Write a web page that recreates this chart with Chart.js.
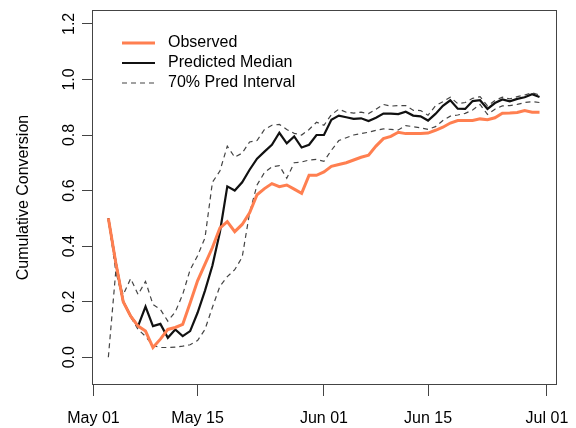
<!DOCTYPE html>
<html lang="en">
<head>
<meta charset="UTF-8">
<title>Cumulative Conversion</title>
<script src="https://cdn.jsdelivr.net/npm/chart.js"></script>
<style>
  body { margin: 0; background: #fff; }
  canvas { display: block; }
</style>
</head>
<body>
<canvas id="convChart" width="576" height="428"></canvas>
<script>
// x = days since May 01 (May 03 .. Jun 30)
const days = [2, 3, 4, 5, 6, 7, 8, 9, 10, 11, 12, 13, 14, 15, 16, 17, 18, 19, 20, 21,
  22, 23, 24, 25, 26, 27, 28, 29, 30, 31, 32, 33, 34, 35, 36, 37, 38, 39, 40, 41,
  42, 43, 44, 45, 46, 47, 48, 49, 50, 51, 52, 53, 54, 55, 56, 57, 58, 59, 60];

const observed = [0.50, 0.34, 0.20, 0.148, 0.112, 0.094, 0.035, 0.065, 0.10, 0.107,
  0.118, 0.195, 0.275, 0.335, 0.395, 0.465, 0.488, 0.452, 0.478, 0.52,
  0.585, 0.607, 0.625, 0.614, 0.62, 0.605, 0.59, 0.655, 0.655, 0.667,
  0.687, 0.694, 0.70, 0.71, 0.72, 0.727, 0.76, 0.787, 0.795, 0.81,
  0.805, 0.805, 0.805, 0.807, 0.817, 0.828, 0.843, 0.852, 0.852, 0.852,
  0.858, 0.855, 0.862, 0.878, 0.879, 0.881, 0.888, 0.882, 0.882];

const median = [0.50, 0.34, 0.20, 0.148, 0.112, 0.182, 0.112, 0.12, 0.07, 0.10,
  0.076, 0.094, 0.16, 0.24, 0.33, 0.45, 0.615, 0.60, 0.63, 0.675,
  0.715, 0.74, 0.765, 0.808, 0.77, 0.795, 0.755, 0.765, 0.80, 0.80,
  0.855, 0.87, 0.864, 0.858, 0.86, 0.85, 0.862, 0.877, 0.877, 0.875,
  0.884, 0.87, 0.867, 0.852, 0.876, 0.905, 0.925, 0.895, 0.894, 0.922,
  0.925, 0.894, 0.915, 0.928, 0.921, 0.93, 0.936, 0.947, 0.937];

const upper = [0.50, 0.31, 0.225, 0.283, 0.226, 0.273, 0.19, 0.172, 0.13, 0.163,
  0.226, 0.315, 0.365, 0.43, 0.63, 0.67, 0.76, 0.72, 0.735, 0.775,
  0.78, 0.82, 0.835, 0.838, 0.82, 0.806, 0.80, 0.82, 0.846, 0.835,
  0.873, 0.893, 0.882, 0.879, 0.882, 0.877, 0.893, 0.91, 0.904, 0.906,
  0.906, 0.889, 0.888, 0.871, 0.905, 0.92, 0.936, 0.913, 0.917, 0.932,
  0.938, 0.905, 0.924, 0.936, 0.93, 0.938, 0.944, 0.952, 0.944];

const lower = [0.0, 0.31, 0.20, 0.145, 0.10, 0.075, 0.042, 0.035, 0.035, 0.036,
  0.04, 0.045, 0.06, 0.10, 0.18, 0.255, 0.29, 0.315, 0.36, 0.52,
  0.62, 0.665, 0.685, 0.69, 0.644, 0.70, 0.703, 0.71, 0.712, 0.705,
  0.745, 0.78, 0.79, 0.80, 0.805, 0.81, 0.817, 0.822, 0.82, 0.818,
  0.834, 0.83, 0.826, 0.82, 0.83, 0.852, 0.868, 0.872, 0.878, 0.89,
  0.91, 0.874, 0.893, 0.905, 0.906, 0.91, 0.917, 0.92, 0.917];

const xTickDays = [0, 14, 31, 45, 61];
const xTickLabels = ['May 01', 'May 15', 'Jun 01', 'Jun 15', 'Jul 01'];
const yTicks = [0, 0.2, 0.4, 0.6, 0.8, 1.0, 1.2];

const FONT = "'Liberation Sans', Arial, sans-serif";
const AXIS = '#444';

function pts(vals) {
  return days.map((d, i) => ({ x: d, y: vals[i] }));
}

// box, rotated y tick labels (R style) and the legend
const extras = {
  id: 'extras',
  afterDraw(chart) {
    const { ctx, chartArea: a, scales } = chart;
    ctx.save();
    ctx.strokeStyle = AXIS;
    ctx.lineWidth = 1;
    ctx.strokeRect(a.left + 0.5, a.top + 0.5, a.width - 1, a.height - 1);

    ctx.fillStyle = '#000';
    ctx.font = '16px ' + FONT;
    ctx.textAlign = 'center';
    ctx.textBaseline = 'middle';
    yTicks.forEach(v => {
      const py = scales.y.getPixelForValue(v);
      ctx.save();
      ctx.translate(a.left - 22, py);
      ctx.rotate(-Math.PI / 2);
      ctx.fillText(v.toFixed(1), 0, 0);
      ctx.restore();
    });

    // legend: interval shares one entry
    const entries = [0, 1, 2];
    ctx.textAlign = 'left';
    entries.forEach((idx, i) => {
      const ds = chart.data.datasets[idx];
      const y = a.top + 33 + i * 20;
      ctx.beginPath();
      ctx.strokeStyle = ds.borderColor;
      ctx.lineWidth = ds.borderWidth;
      ctx.setLineDash(ds.borderDash || []);
      ctx.moveTo(a.left + 30, y);
      ctx.lineTo(a.left + 63, y);
      ctx.stroke();
      ctx.setLineDash([]);
      ctx.fillStyle = '#000';
      ctx.fillText(ds.label, a.left + 76, y);
    });
    ctx.restore();
  }
};

const ctx = document.getElementById('convChart').getContext('2d');
new Chart(ctx, {
  type: 'line',
  data: {
    datasets: [
      { label: 'Observed', data: pts(observed), borderColor: '#FF7F50', borderWidth: 3 },
      { label: 'Predicted Median', data: pts(median), borderColor: '#111', borderWidth: 2.2 },
      { label: '70% Pred Interval', data: pts(upper), borderColor: AXIS, borderWidth: 1.2, borderDash: [5, 4] },
      { label: '70% Pred Interval (lower)', data: pts(lower), borderColor: AXIS, borderWidth: 1.2, borderDash: [5, 4] }
    ]
  },
  options: {
    responsive: false,
    animation: false,
    events: [],
    elements: { point: { radius: 0 }, line: { tension: 0, fill: false } },
    layout: { padding: { left: 4, right: 19, top: 10, bottom: 2 } },
    plugins: { legend: { display: false }, tooltip: { enabled: false } },
    scales: {
      x: {
        type: 'linear',
        min: -0.2,
        max: 62.35,
        afterBuildTicks: s => { s.ticks = xTickDays.map(v => ({ value: v })); },
        afterFit: s => { s.height = 41; s.paddingLeft = 0; s.paddingRight = 0; },
        ticks: {
          autoSkip: false,
          maxRotation: 0,
          padding: 13,
          color: '#000',
          font: { family: FONT, size: 16 },
          callback: v => xTickLabels[xTickDays.indexOf(v)]
        },
        grid: { drawOnChartArea: false, drawTicks: true, tickLength: 11, color: AXIS },
        border: { display: false }
      },
      y: {
        type: 'linear',
        min: -0.1,
        max: 1.25,
        afterBuildTicks: s => { s.ticks = yTicks.map(v => ({ value: v })); },
        afterFit: s => { s.width = 88; },
        ticks: { display: false },
        grid: { drawOnChartArea: false, drawTicks: true, tickLength: 10, color: AXIS },
        border: { display: false },
        title: {
          display: true,
          text: 'Cumulative Conversion',
          color: '#000',
          font: { family: FONT, size: 16 },
          padding: { top: 10.4, bottom: 48.4 }
        }
      }
    }
  },
  plugins: [extras]
});
</script>
</body>
</html>
